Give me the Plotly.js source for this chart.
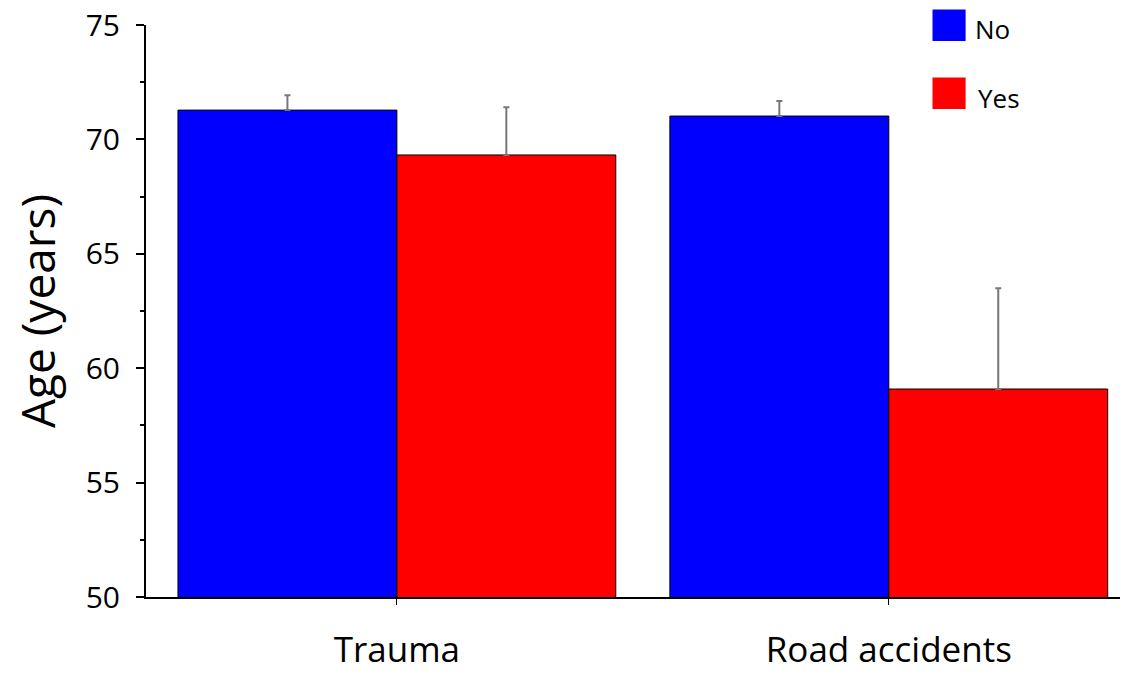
<!DOCTYPE html>
<html>
<head>
<meta charset="utf-8">
<script src="https://cdn.plot.ly/plotly-3.0.1.min.js"></script>
<style>html,body{margin:0;padding:0;background:#fff;}#chart{width:1123px;height:673px;}</style>
</head>
<body>
<div id="chart"></div>
<script>
var categories = ["Trauma", "Road accidents"];
var seriesNames = ["No", "Yes"];
var noValues = [71.28, 71.02];
var noErrors = [0.65, 0.66];
var yesValues = [69.32, 59.09];
var yesErrors = [2.08, 4.40];
var yTickVals = [50, 55, 60, 65, 70, 75];

var FONT = "Open Sans, DejaVu Sans, sans-serif";
var colors = ["#0000ff", "#ff0000"];

function barTrace(name, vals, errs, color) {
  return {
    type: "bar",
    name: name,
    x: categories,
    y: vals,
    marker: {color: color, line: {color: "#000", width: 1}},
    error_y: {type: "data", array: errs, symmetric: false, arrayminus: errs.map(function(){return 0;}), color: "#777", thickness: 2, width: 3},
    showlegend: false,
    cliponaxis: false
  };
}

var data = [
  barTrace(seriesNames[0], noValues, noErrors, colors[0]),
  barTrace(seriesNames[1], yesValues, yesErrors, colors[1])
];

var layout = {
  width: 1123, height: 673,
  margin: {l: 146, r: 3, t: 25, b: 76},
  paper_bgcolor: "#fff", plot_bgcolor: "#fff",
  barmode: "group", bargap: 0.11, bargroupgap: 0,
  font: {family: FONT, color: "#000"},
  xaxis: {
    type: "category",
    range: [-0.51, 1.47],
    showline: true, linecolor: "#000", linewidth: 2,
    ticks: "outside", ticklen: 6, tickcolor: "#000", tickwidth: 1,
    tickfont: {size: 35, family: FONT},
    showgrid: false, zeroline: false,
    layer: "below traces",
    ticklabelstandoff: 15
  },
  yaxis: {
    range: [50, 75],
    tickvals: yTickVals,
    showline: true, linecolor: "#000", linewidth: 2,
    ticks: "outside", ticklen: 8, tickcolor: "#000", tickwidth: 2,
    minor: {dtick: 2.5, ticks: "outside", ticklen: 4, tickcolor: "#000", tickwidth: 2, showgrid: false},
    tickfont: {size: 30, family: FONT},
    ticklabelstandoff: 10,
    showgrid: false, zeroline: false,
    title: {text: "Age (years)", font: {size: 46, family: FONT}, standoff: 16}
  },
  shapes: [
    {type: "rect", xref: "paper", yref: "paper", x0: 0.8075, x1: 0.8415, y0: 1.027, y1: 0.972, fillcolor: colors[0], line: {width: 0}},
    {type: "rect", xref: "paper", yref: "paper", x0: 0.8075, x1: 0.8415, y0: 0.908, y1: 0.853, fillcolor: colors[1], line: {width: 0}}
  ],
  annotations: [
    {xref: "paper", yref: "paper", x: 0.849, y: 0.993, xanchor: "left", yanchor: "middle", text: seriesNames[0], showarrow: false, font: {size: 26, family: FONT}},
    {xref: "paper", yref: "paper", x: 0.852, y: 0.872, xanchor: "left", yanchor: "middle", text: seriesNames[1], showarrow: false, font: {size: 26, family: FONT}}
  ]
};

Plotly.newPlot("chart", data, layout, {displayModeBar: false, staticPlot: true});
</script>
</body>
</html>
